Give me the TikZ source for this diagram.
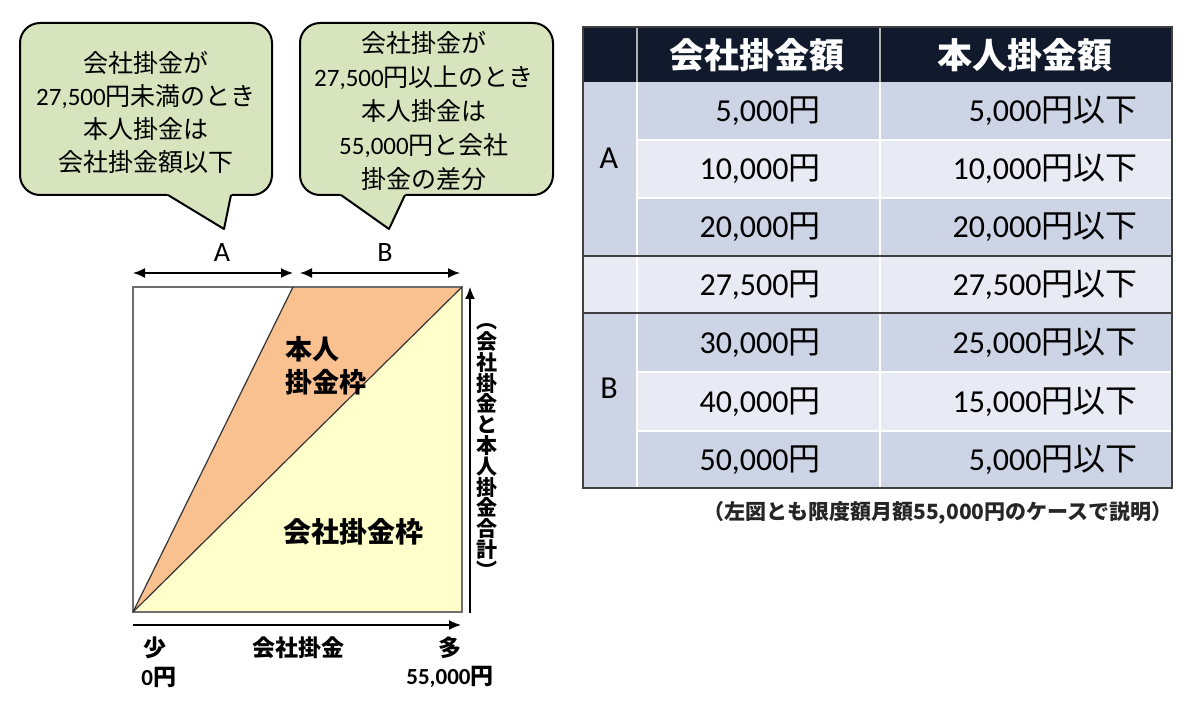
\documentclass[tikz,border=0pt]{standalone}
\usepackage{fontspec}
\setmainfont{Noto Sans CJK JP}
\newfontfamily\calfont{Carlito}
\usetikzlibrary{arrows.meta}
\definecolor{bubblefill}{HTML}{D7E4BD}
\definecolor{orangefill}{HTML}{FAC190}
\definecolor{yellowfill}{HTML}{FFFFCC}
\definecolor{navy}{HTML}{101A2C}
\definecolor{rowdark}{HTML}{CDD4E5}
\definecolor{rowlight}{HTML}{E8EBF3}
\definecolor{boxgray}{HTML}{6E6E6E}
\tikzset{
  bubbleline/.style={draw=black, line width=1pt, line join=round},
  bubbletext/.style={align=center, font=\fontsize{12.5}{16.5}\selectfont, inner sep=0pt},
  dimarrow/.style={line width=0.75pt, {Latex[length=6pt,width=5pt]}-{Latex[length=6pt,width=5pt]}},
  axisarrow/.style={line width=0.75pt, -{Latex[length=6pt,width=5pt]}},
  lbl/.style={font=\fontsize{11.5}{12}\selectfont\bfseries, inner sep=0pt},
  celltext/.style={font=\fontsize{16}{18}\selectfont, inner sep=0pt, anchor=east},
  headtext/.style={font=\fontsize{17.5}{19}\selectfont\bfseries, text=white, inner sep=0pt},
}
\begin{document}
\begin{tikzpicture}[x=0.5pt,y=-0.5pt]
\useasboundingbox (0,0) rectangle (1200,711);

% ---------- Bubble 1 ----------
\draw[bubbleline, fill=bubblefill, rounded corners=10pt] (20,23) rectangle (272,195);
\fill[bubblefill] (166,191) -- (233,191) -- (231,195) -- (224,229) -- (168,195) -- cycle;
\draw[bubbleline] (168,195) -- (224,229) -- (231,195);
\node[bubbletext] (b1) at (146,112) {会社掛金が\\{\calfont 27,500}円未満のとき\\本人掛金は\\会社掛金額以下};

% ---------- Bubble 2 ----------
\draw[bubbleline, fill=bubblefill, rounded corners=10pt] (300,23) rectangle (553,195);
\fill[bubblefill] (339,191) -- (407,191) -- (405,195) -- (389,229) -- (341,195) -- cycle;
\draw[bubbleline] (341,195) -- (389,229) -- (405,195);
\node[bubbletext, font=\fontsize{12.5}{17}\selectfont] (b2) at (424,111) {会社掛金が\\{\calfont 27,500}円以上のとき\\本人掛金は\\{\calfont 55,000}円と会社\\掛金の差分};

% ---------- Dimension labels ----------
\node[font=\calfont\fontsize{14}{14}\selectfont, inner sep=0pt] (la) at (222,253) {A};
\node[font=\calfont\fontsize{14}{14}\selectfont, inner sep=0pt] (lb) at (385,253) {B};
\coordinate (a1) at (133,273); \coordinate (a2) at (293,273);
\coordinate (bb1) at (300,273); \coordinate (bb2) at (460,273);
\draw[dimarrow] (a1) -- (a2);
\draw[dimarrow] (bb1) -- (bb2);

% ---------- Square diagram ----------
\coordinate (BL) at (133,612); \coordinate (TL) at (133,287);
\coordinate (TR) at (462,287); \coordinate (BR) at (462,612);
\coordinate (TM) at (293,287);
\fill[white] (BL) rectangle (TR);
\fill[orangefill] (BL) -- (TM) -- (TR) -- cycle;
\fill[yellowfill] (BL) -- (TR) -- (BR) -- cycle;
\draw[boxgray, line width=1pt] (BL) rectangle (TR);
\draw[black!80, line width=0.6pt] (BL) -- (TM);
\draw[black!80, line width=0.6pt] (BL) -- (TR);

\node[font=\fontsize{13.5}{16.5}\selectfont\bfseries, align=left, inner sep=0pt, anchor=west] (honnin) at (285,366) {本人\\掛金枠};
\node[font=\fontsize{14}{14}\selectfont\bfseries, inner sep=0pt] (kaisha) at (353,532) {会社掛金枠};

% axes
\coordinate (v1) at (470,613); \coordinate (v2) at (470,287);
\draw[axisarrow] (v1) -- (v2);
\coordinate (h1) at (133,625); \coordinate (h2) at (461,625);
\draw[axisarrow] (h1) -- (h2);

\node[font=\fontsize{10.5}{10.4}\selectfont\bfseries, align=center, inner sep=0pt] (vtext) at (487,451)
  {︵\\会\\社\\掛\\金\\と\\本\\人\\掛\\金\\合\\計\\︶};

\node[lbl] (sho) at (155,648) {少};
\node[lbl, anchor=west] (zero) at (141,677) {{\calfont\bfseries 0}円};
\node[lbl] (kk) at (298,648) {会社掛金};
\node[lbl] (ta) at (450,648) {多};
\node[lbl] (max) at (450,677) {{\calfont\bfseries 55,000}円};

% ---------- Table ----------
\fill[navy] (583,27) rectangle (1172,82);
\fill[rowdark] (583,82) rectangle (637,256);
\fill[rowdark] (637,82) rectangle (1172,140);
\fill[rowlight] (637,140) rectangle (1172,198);
\fill[rowdark] (637,198) rectangle (1172,256);
\fill[rowlight] (583,256) rectangle (1172,313);
\fill[rowdark] (583,313) rectangle (637,488);
\fill[rowdark] (637,313) rectangle (1172,372);
\fill[rowlight] (637,372) rectangle (1172,431);
\fill[rowdark] (637,431) rectangle (1172,488);

\draw[white, line width=0.9pt] (637,82) -- (637,488);
\draw[white, line width=0.9pt] (880,82) -- (880,488);
\foreach \yy in {140,198,372,431} \draw[white, line width=0.9pt] (637,\yy) -- (1172,\yy);
\draw[gray!60, line width=0.6pt] (637,27) -- (637,82);
\draw[gray!60, line width=0.6pt] (880,27) -- (880,82);
\draw[black!75, line width=1pt] (583,256) -- (1172,256);
\draw[black!75, line width=1pt] (583,313) -- (1172,313);
\draw[black!75, line width=1pt] (583,27) rectangle (1172,488);

\node[headtext] (h2t) at (757,55) {会社掛金額};
\node[headtext] (h3t) at (1025,55) {本人掛金額};

\node[font=\calfont\fontsize{16}{16}\selectfont, inner sep=0pt] (ga) at (609,158) {A};
\node[font=\calfont\fontsize{16}{16}\selectfont, inner sep=0pt] (gb) at (609,388) {B};

\node[celltext] (r1a) at (821,111) {{\calfont 5,000}円};
\node[celltext] (r1b) at (1138,111) {{\calfont 5,000}円以下};
\node[celltext] (r2a) at (821,169) {{\calfont 10,000}円};
\node[celltext] (r2b) at (1138,169) {{\calfont 10,000}円以下};
\node[celltext] (r3a) at (821,227) {{\calfont 20,000}円};
\node[celltext] (r3b) at (1138,227) {{\calfont 20,000}円以下};
\node[celltext] (r4a) at (821,285) {{\calfont 27,500}円};
\node[celltext] (r4b) at (1138,285) {{\calfont 27,500}円以下};
\node[celltext] (r5a) at (821,343) {{\calfont 30,000}円};
\node[celltext] (r5b) at (1138,343) {{\calfont 25,000}円以下};
\node[celltext] (r6a) at (821,402) {{\calfont 40,000}円};
\node[celltext] (r6b) at (1138,402) {{\calfont 15,000}円以下};
\node[celltext] (r7a) at (821,460) {{\calfont 50,000}円};
\node[celltext] (r7b) at (1138,460) {{\calfont 5,000}円以下};

\node[font=\fontsize{10.5}{11}\selectfont\bfseries, text=black!85, inner sep=0pt, anchor=east] (cap) at (1173,513) {（左図とも限度額月額55,000円のケースで説明）};
\end{tikzpicture}
\end{document}
